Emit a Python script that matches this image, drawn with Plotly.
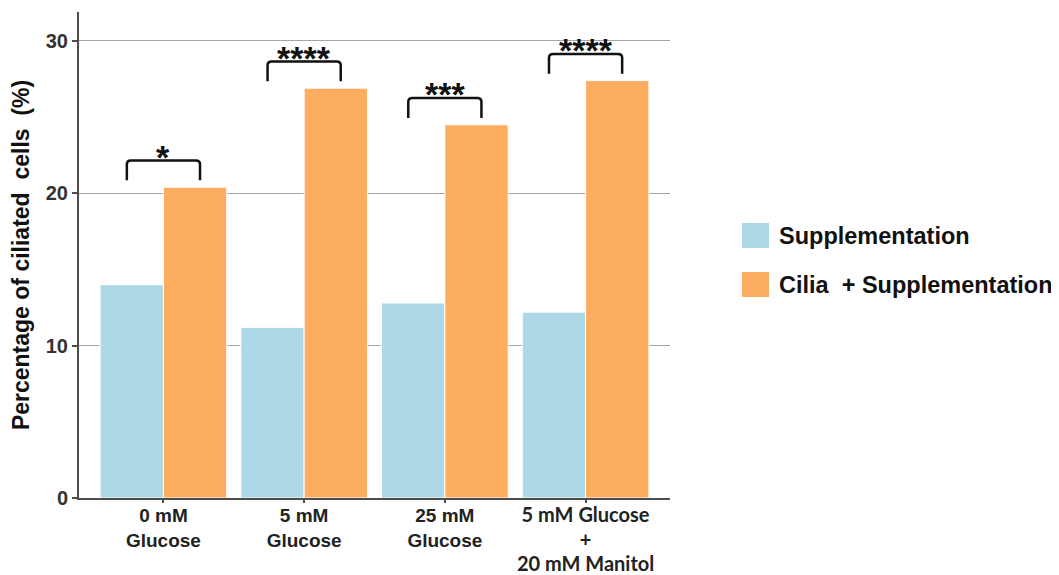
import plotly.graph_objects as go

# ---------------- data ----------------
categories = ["0 mM<br>Glucose", "5 mM<br>Glucose", "25 mM<br>Glucose",
              "<span style='font-family:Lato;font-size:20px'>5 mM Glucose<br>+<br>20 mM Manitol</span>"]
supplementation = [14.0, 11.2, 12.8, 12.2]
cilia_supplementation = [20.4, 26.9, 24.5, 27.4]
significance = ["*", "****", "***", "****"]
series_names = ["Supplementation", "Cilia  + Supplementation"]
y_ticks = [0, 10, 20, 30]

BLUE = "#ADD8E6"
ORANGE = "#FDAD60"
FONT = "Liberation Sans"

x_idx = list(range(len(categories)))

fig = go.Figure()
fig.add_trace(go.Bar(x=x_idx, y=supplementation, name=series_names[0],
                     marker=dict(color=BLUE, line=dict(color="white", width=1)),
                     showlegend=False))
fig.add_trace(go.Bar(x=x_idx, y=cilia_supplementation, name=series_names[1],
                     marker=dict(color=ORANGE, line=dict(color="white", width=1)),
                     showlegend=False))

# significance brackets
shapes = []
annotations = []
half = 0.26
for i, (v, s) in enumerate(zip(cilia_supplementation, significance)):
    yb = v + 0.45
    yt = v + 1.75
    x0, x1 = i - half, i + half
    r = 0.03
    rr = 0.25
    path = (f"M {x0},{yb} L {x0},{yt - rr} Q {x0},{yt} {x0 + r},{yt} "
            f"L {x1 - r},{yt} Q {x1},{yt} {x1},{yt - rr} L {x1},{yb}")
    shapes.append(dict(type="path", xref="x", yref="y", path=path,
                       line=dict(color="#111111", width=2.5)))
    annotations.append(dict(x=i, y=yt, xref="x", yref="y", text=f"<b>{s}</b>",
                            showarrow=False, yanchor="middle", yshift=4,
                            font=dict(family=FONT, size=34, color="#111111")))

# page offset (body margin of the html page)
OFF = 8
W, H = 1059 - OFF, 575 - OFF
X0, X1, Y0, Y1 = 79 - OFF, 670 - OFF, 12 - OFF, 498 - OFF


def px_x(p):
    return (p - OFF - X0) / (X1 - X0)


def px_y(p):
    return (Y1 - (p - OFF)) / (Y1 - Y0)


legend_rows = [(BLUE, series_names[0], 223, 248), (ORANGE, series_names[1], 272, 297)]
for color, label, t, b in legend_rows:
    shapes.append(dict(type="rect", xref="paper", yref="paper",
                       x0=px_x(742), x1=px_x(769), y0=px_y(b), y1=px_y(t),
                       fillcolor=color, line=dict(width=0)))
    annotations.append(dict(x=px_x(777), y=px_y((t + b) / 2), xref="paper", yref="paper",
                            text=f"<b>{label}</b>", showarrow=False,
                            xanchor="left", yanchor="middle",
                            font=dict(family=FONT, size=23.5, color="#111111")))

fig.update_layout(
    width=W, height=H,
    margin=dict(l=X0, r=W - X1, t=Y0, b=H - Y1, autoexpand=False),
    plot_bgcolor="white", paper_bgcolor="white",
    barmode="group", bargap=0.1, bargroupgap=0,
    shapes=shapes, annotations=annotations,
    font=dict(family=FONT, color="#222222"),
)
fig.update_xaxes(
    tickmode="array", tickvals=x_idx, ticktext=[f"<b>{c}</b>" for c in categories],
    range=[-0.6, 3.6], showline=True, linecolor="#4d4d4d", linewidth=2,
    ticks="outside", ticklen=3, tickcolor="#4d4d4d", tickwidth=1.5,
    tickfont=dict(family=FONT, size=19, color="#222222"), showgrid=False, zeroline=False,
    ticklabelstandoff=-4,
    automargin=False,
)
fig.update_yaxes(
    range=[0, 31.9], tickmode="array", tickvals=y_ticks,
    ticktext=[f"<b>{t}</b>" for t in y_ticks],
    showline=True, linecolor="#4d4d4d", linewidth=2,
    ticks="outside", ticklen=5, tickcolor="#4d4d4d", tickwidth=1.5,
    tickfont=dict(family=FONT, size=20, color="#333333"),
    showgrid=True, gridcolor="#a6a6a6", gridwidth=1, zeroline=False,
    automargin=False,
    title=dict(text="<b>Percentage of ciliated  cells  (%)</b>",
               font=dict(family=FONT, size=23, color="#111111"), standoff=12),
)

fig.write_html("out.html")
